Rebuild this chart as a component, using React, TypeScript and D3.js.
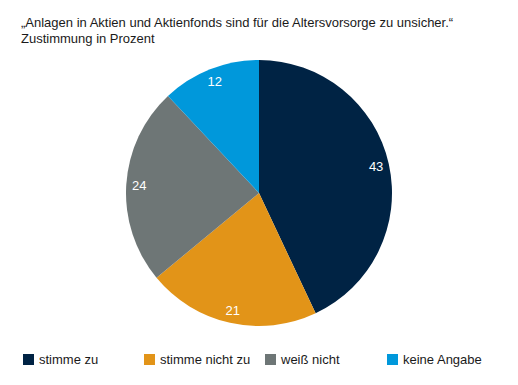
import React from "react";
import * as d3 from "d3";

const categories = ["stimme zu", "stimme nicht zu", "weiß nicht", "keine Angabe"];
const values = [43, 21, 24, 12];
const colors = ["#002344", "#E29418", "#6E7676", "#0098DB"];
const titleLines = ["„Anlagen in Aktien und Aktienfonds sind für die Altersvorsorge zu unsicher.“", "Zustimmung in Prozent"];
const legendX = [23, 144, 265, 387];

export default function App() {
  const width = 518, height = 385;
  const cx = 259, cy = 193, r = 133;
  const pie = d3.pie<number>().sort(null).value((d) => d);
  const arcs = pie(values);
  const arc = d3.arc<d3.PieArcDatum<number>>().innerRadius(0).outerRadius(r);
  const labelArc = d3.arc<d3.PieArcDatum<number>>().innerRadius(120).outerRadius(120);
  const font = "'Liberation Sans', Arial, Helvetica, sans-serif";
  return (
    <svg width={width} height={height} style={{ position: "absolute", left: 0, top: 0 }} fontFamily={font}>
      <rect width={width} height={height} fill="#fff" />
      {titleLines.map((t, i) => (
        <text key={i} x={21} y={27 + i * 16} fontSize={13} fill="#1a1a1a">{t}</text>
      ))}
      <g transform={`translate(${cx},${cy})`}>
        {arcs.map((a, i) => (
          <path key={i} d={arc(a) || ""} fill={colors[i]} />
        ))}
        {arcs.map((a, i) => {
          const [x, y] = labelArc.centroid(a);
          return (
            <text key={"l" + i} x={x} y={y} dy="0.35em" textAnchor="middle" fontSize={13} fill="#fff">{values[i]}</text>
          );
        })}
      </g>
      {categories.map((c, i) => (
        <g key={c}>
          <rect x={legendX[i]} y={354} width={11} height={11} fill={colors[i]} />
          <text x={legendX[i] + 16} y={364} fontSize={13} fill="#1a1a1a">{c}</text>
        </g>
      ))}
    </svg>
  );
}
